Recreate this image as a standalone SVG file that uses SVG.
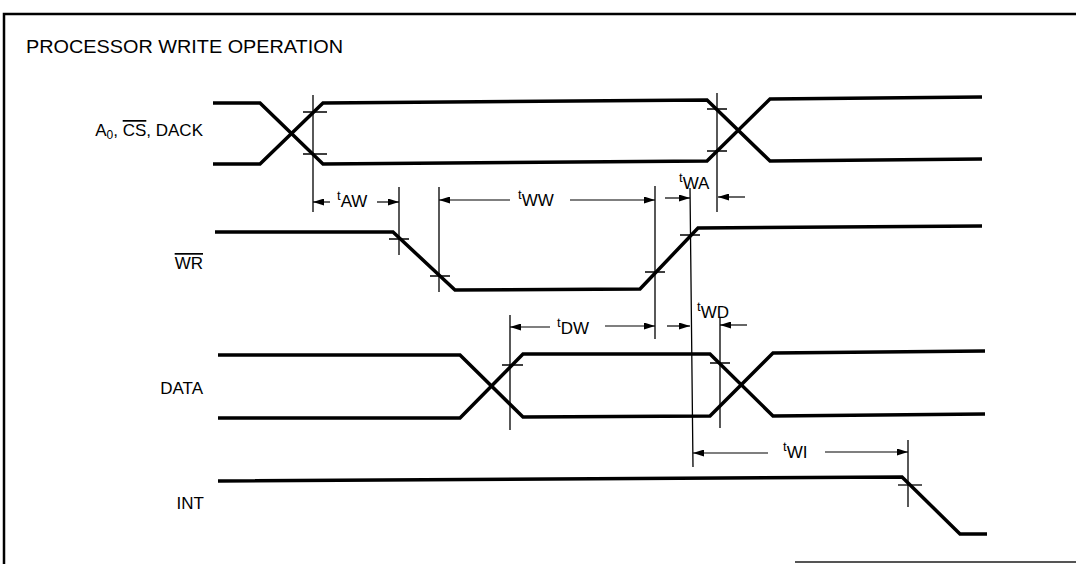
<svg xmlns="http://www.w3.org/2000/svg" width="1076" height="564" viewBox="0 0 1076 564">
<style>
text{font-family:"Liberation Sans",Arial,sans-serif;fill:#000}
.title{font-size:19px}
.lbl{font-size:17px}
.dim{font-size:13px}
.sub{font-size:17px}
.sig{fill:none;stroke:#000;stroke-width:3.5;stroke-linejoin:miter}
.ref{fill:none;stroke:#000;stroke-width:1.3}
.arr{fill:none;stroke:#000;stroke-width:1.2;marker-end:url(#ah)}
.frame{fill:none;stroke:#000;stroke-width:2.5}
</style>
<defs>
<marker id="ah" markerUnits="userSpaceOnUse" markerWidth="11" markerHeight="7" refX="11" refY="3.5" orient="auto">
<path d="M0,0 L11,3.5 L0,7 z" fill="#000"/>
</marker>
</defs>
<rect width="1076" height="564" fill="#fff"/>
<g id="frame">
<path class="frame" d="M4,564 V14 H1076"/>
<path d="M795,562 H1076" stroke="#555" stroke-width="2" fill="none"/>
<text class="title" x="26" y="53" textLength="317" lengthAdjust="spacingAndGlyphs">PROCESSOR WRITE OPERATION</text>
</g>
<g id="sig-a0">
<text class="lbl" x="203" y="136" text-anchor="end">A<tspan font-size="12" dy="3">0</tspan><tspan dy="-3">, </tspan><tspan text-decoration="overline">CS</tspan>, DACK</text>
<polyline class="sig" points="213,103 260,103 323,164 707,161 770,99 982,97"/>
<polyline class="sig" points="213,164 260,164 323,103 707,100 770,161 982,159"/>
<path class="ref" d="M303,112 H327 M303,154 H327 M707,109 H727 M707,151 H727"/>
</g>
<g id="sig-wr">
<text class="lbl" x="203" y="269" text-anchor="end"><tspan text-decoration="overline">WR</tspan></text>
<polyline class="sig" points="215,232 393,232 455,290 640,289 698,228 982,226"/>
<path class="ref" d="M389,239 H409 M430,276 H450 M645,272 H665 M680,235 H700"/>
</g>
<g id="sig-data">
<text class="lbl" x="203" y="394" text-anchor="end">DATA</text>
<polyline class="sig" points="218,355 460,355 523,417 710,416 773,353 985,351"/>
<polyline class="sig" points="218,418 460,418 523,354 710,354 773,416 985,414"/>
<path class="ref" d="M502,365 H523 M710,363 H730"/>
</g>
<g id="sig-int">
<text class="lbl" x="204" y="509" text-anchor="end">INT</text>
<polyline class="sig" points="218,481 902,477 960,534 987,534"/>
<path class="ref" d="M898,485 H922"/>
</g>
<g id="connectors">
<path class="ref" d="M313,95 V212 M717,93 V212 M399,187 V255 M439,187 V292 M655,186 V339 M690,188 L693,467 M510,315 V430 M720,318 V428 M908,440 V507"/>
<line class="arr" x1="330" y1="202" x2="313" y2="202"/>
<line class="arr" x1="377" y1="202" x2="399" y2="202"/>
<text class="dim" x="337" y="200">t<tspan class="sub" dy="7">AW</tspan></text>
<line class="arr" x1="510" y1="200" x2="439" y2="200"/>
<line class="arr" x1="570" y1="200" x2="655" y2="200"/>
<text class="dim" x="518" y="199">t<tspan class="sub" dy="7">WW</tspan></text>
<line class="arr" x1="665" y1="198" x2="690" y2="198"/>
<line class="arr" x1="745" y1="197" x2="718" y2="197"/>
<text class="dim" x="679" y="182">t<tspan class="sub" dy="7">WA</tspan></text>
<line class="arr" x1="550" y1="327" x2="510" y2="327"/>
<line class="arr" x1="605" y1="326" x2="655" y2="326"/>
<text class="dim" x="557" y="327">t<tspan class="sub" dy="7">DW</tspan></text>
<line class="arr" x1="667" y1="326" x2="690" y2="326"/>
<line class="arr" x1="747" y1="325" x2="720" y2="325"/>
<text class="dim" x="697" y="311">t<tspan class="sub" dy="7">WD</tspan></text>
<line class="arr" x1="768" y1="453" x2="693" y2="453"/>
<line class="arr" x1="825" y1="452" x2="908" y2="452"/>
<text class="dim" x="783" y="451">t<tspan class="sub" dy="7">WI</tspan></text>
</g>
</svg>
